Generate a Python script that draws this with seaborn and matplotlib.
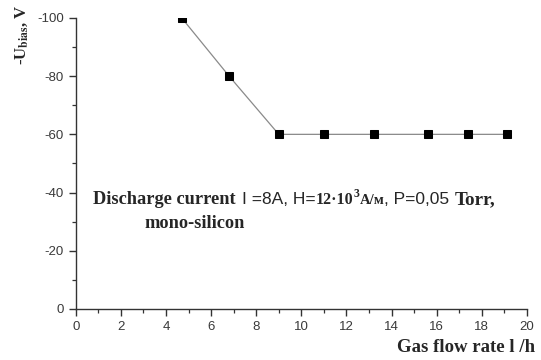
import matplotlib
matplotlib.use("Agg")
import matplotlib.pyplot as plt
import seaborn as sns
import pandas as pd
from matplotlib.ticker import MultipleLocator

# Gas flow rate (l/h) and bias voltage (V)
flow_rate = [4.7, 6.8, 9.0, 11.0, 13.2, 15.6, 17.4, 19.1]
bias_voltage = [-100, -80, -60, -60, -60, -60, -60, -60]

x_ticks = [0, 2, 4, 6, 8, 10, 12, 14, 16, 18, 20]
y_ticks = [0, -20, -40, -60, -80, -100]

df = pd.DataFrame({"flow": flow_rate, "ubias": bias_voltage})

SANS = "Liberation Sans"
SERIF = "Liberation Serif"

sns.set_style("ticks")
plt.rcParams["font.family"] = [SANS, "DejaVu Sans"]
plt.rcParams["mathtext.fontset"] = "stix"

fig = plt.figure(figsize=(5.41, 3.6), dpi=100)
ax = fig.add_axes([0.140, 0.142, 0.834, 0.808])

sns.lineplot(data=df, x="flow", y="ubias", ax=ax, color="#8a8a8a", lw=0.9,
             marker="s", markersize=5.5, markerfacecolor="black",
             markeredgecolor="black", clip_on=True)

ax.set_xlim(0, 20)
ax.set_ylim(0, -100)
ax.set_xticks(x_ticks)
ax.set_yticks(y_ticks)
ax.set_xticklabels([str(v) for v in x_ticks])
ax.set_yticklabels([str(v) for v in y_ticks])
ax.xaxis.set_minor_locator(MultipleLocator(1))
ax.yaxis.set_minor_locator(MultipleLocator(10))
ax.tick_params(which="major", direction="out", length=5, width=1.0,
               color="#333333", labelsize=9.5, labelcolor="#3a3a3a")
ax.tick_params(which="minor", direction="out", length=3, width=0.9,
               color="#333333")
for side in ("top", "right"):
    ax.spines[side].set_visible(False)
for side in ("left", "bottom"):
    ax.spines[side].set_color("#333333")
    ax.spines[side].set_linewidth(1.0)
ax.set_xlabel("")
ax.set_ylabel("")

# axis titles
fig.text(0.04, 0.905, r"-U$_{\mathbf{bias}}$, V", rotation=90,
         ha="center", va="center", family=SERIF, weight="bold", fontsize=12)
fig.text(0.99, 0.022, "Gas flow rate l /h", ha="right", va="baseline",
         family=SERIF, weight="bold", fontsize=13.5)

# conditions line, built from pieces in mixed fonts
fig.canvas.draw()
renderer = fig.canvas.get_renderer()
W, H = fig.bbox.width, fig.bbox.height


def put(x_px, y_px, s, **kw):
    t = fig.text(x_px / W, 1 - y_px / H, s, va="baseline", ha="left", **kw)
    bb = t.get_window_extent(renderer)
    return bb.x1


base = 204
x = 93
x = put(x, base, "Discharge current ", family=SERIF, weight="bold", fontsize=13.2)
x = put(x + 2, base, "I =8A, H=", family=SANS, fontsize=12.5)
x = put(x, base, "12\u00b710", family=SERIF, weight="bold", fontsize=11.5)
x = put(x, base - 7, "3", family=SERIF, weight="bold", fontsize=8.5)
x = put(x, base, "A/\u043c", family=SERIF, weight="bold", fontsize=10.5)
x = put(x, base, ", P=0,05 ", family=SANS, fontsize=12.5)
x = put(x, base, "Torr,", family=SERIF, weight="bold", fontsize=13.8)
put(144, 228, "mono-silicon", family=SERIF, weight="bold", fontsize=13.2)

fig.savefig("out.png", dpi=100)
